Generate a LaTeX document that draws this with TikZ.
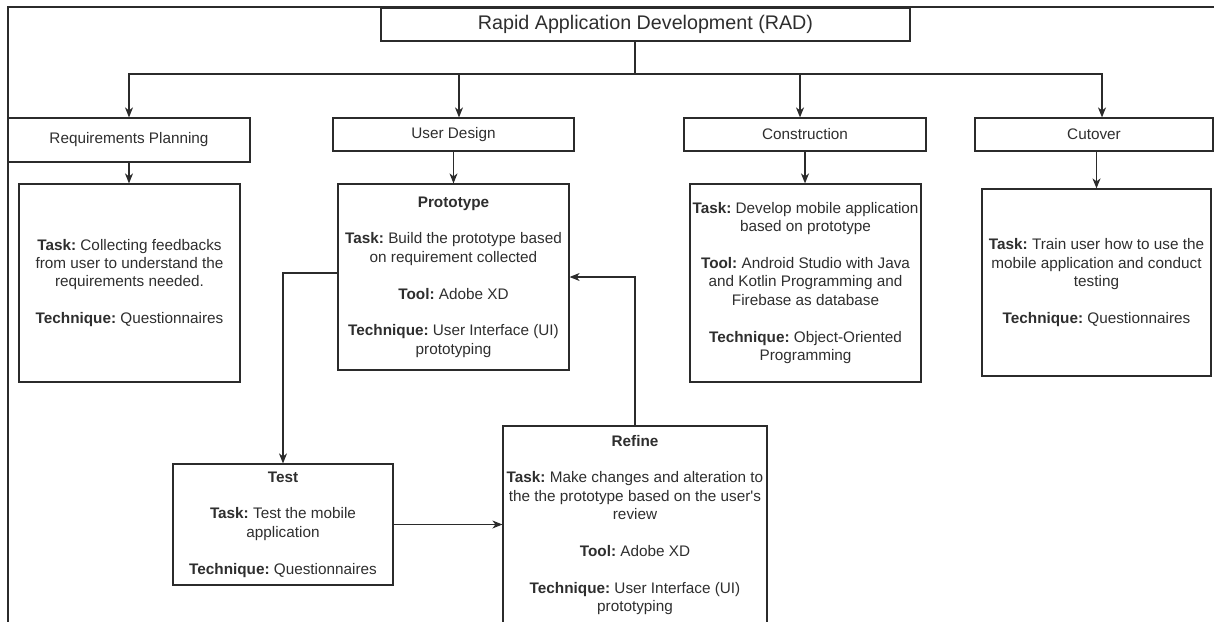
\documentclass[tikz,border=0pt]{standalone}
\usepackage{fontspec}
\setmainfont{Liberation Sans}
\usetikzlibrary{arrows.meta}
\definecolor{linec}{HTML}{2B2B2B}
\definecolor{txtc}{HTML}{2E2E2E}
\newcommand{\bodyfnt}{\fontsize{15.3}{18.4}\selectfont\frenchspacing}
\newcommand{\titlefnt}{\fontsize{19.7}{23}\selectfont}
\begin{document}
\begin{tikzpicture}[x=1pt,y=-1pt,
  box/.style={draw=linec, line width=1.2pt, inner sep=0pt, align=center, font=\bodyfnt, text=txtc},
  arr/.style={draw=linec, line width=1.2pt, -{Stealth[length=10pt,width=8pt,inset=3pt]}},
  ln/.style={draw=linec, line width=1.2pt}]
\useasboundingbox (0,0) rectangle (1214,621);
\clip (0,0) rectangle (1214,621);
% outer frame
\draw[ln] (8,7) rectangle (1240,660);
% title
\node[box, minimum width=529pt, minimum height=33pt, font=\titlefnt] (rad) at (645.5,24.5) {Rapid Application Development (RAD)};
% phases
\node[box, minimum width=242pt, minimum height=44pt] (rp) at (129,140) {Requirements Planning};
\node[box, minimum width=241pt, minimum height=33pt] (ud) at (453.5,134.5) {User Design};
\node[box, minimum width=242pt, minimum height=33pt] (con) at (805,134.5) {Construction};
\node[box, minimum width=238pt, minimum height=33pt] (cut) at (1094,134.5) {Cutover};
% content boxes
\node[box, minimum width=221pt, minimum height=198pt] (rpc) at (129.5,283) {\textbf{Task:} Collecting feedbacks\\from user to understand the\\requirements needed.\\[18.4pt]\textbf{Technique:} Questionnaires};
\node[box, minimum width=231pt, minimum height=186pt] (proto) at (453.5,277) {\textbf{Prototype}\\[18.4pt]\textbf{Task:} Build the prototype based\\on requirement collected\\[18.4pt]\textbf{Tool:} Adobe XD\\[18.4pt]\textbf{Technique:} User Interface (UI)\\prototyping};
\node[box, minimum width=231pt, minimum height=198pt] (conc) at (805.5,283) {\textbf{Task:} Develop mobile application\\based on prototype\\[18.4pt]\textbf{Tool:} Android Studio with Java\\and Kotlin Programming and\\Firebase as database\\[18.4pt]\textbf{Technique:} Object-Oriented\\Programming};
\node[box, minimum width=229pt, minimum height=187pt] (cutc) at (1096.5,282.5) {\textbf{Task:} Train user how to use the\\mobile application and conduct\\testing\\[18.4pt]\textbf{Technique:} Questionnaires};
\node[box, minimum width=220pt, minimum height=121pt] (test) at (283,524.5) {\textbf{Test}\\[18.4pt]\textbf{Task:} Test the mobile\\application\\[18.4pt]\textbf{Technique:} Questionnaires};
\node[box, minimum width=264pt, minimum height=198pt] (refine) at (635,525) {\textbf{Refine}\\[18.4pt]\textbf{Task:} Make changes and alteration to\\the the prototype based on the user\textquotesingle s\\review\\[18.4pt]\textbf{Tool:} Adobe XD\\[18.4pt]\textbf{Technique:} User Interface (UI)\\prototyping};
% connectors
\coordinate (split) at (635,74);
\draw[ln] (rad.south -| split) -- (split);
\draw[arr] (split) -| (rp.north);
\draw[arr] (split) -| ([xshift=5.5pt]ud.north);
\draw[arr] (split) -| ([xshift=-5pt]con.north);
\draw[arr] (split) -| ([xshift=8pt]cut.north);
\draw[arr] (rp.south) -- (rp.south |- rpc.north);
\draw[arr] (ud.south) -- (ud.south |- proto.north);
\draw[arr] (con.south) -- (con.south |- conc.north);
\draw[arr] (cutc.north |- cut.south) -- (cutc.north);
\draw[arr] ([yshift=4pt]proto.west) -| (test.north);
\draw[arr] (test.east) -- (test.east -| refine.west);
\draw[arr] (refine.north) |- (proto.east);
\end{tikzpicture}
\end{document}
